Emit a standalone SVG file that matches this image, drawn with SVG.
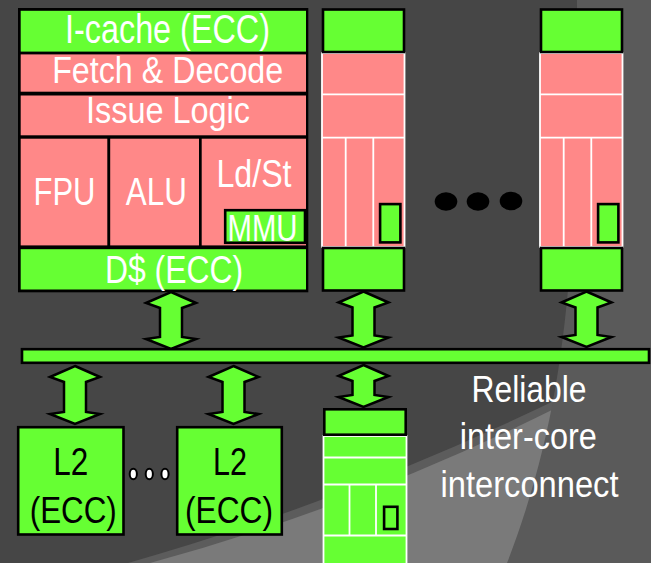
<svg xmlns="http://www.w3.org/2000/svg" width="651" height="563" viewBox="0 0 651 563">
<style>
.g{fill:#66ff33;stroke:#000;stroke-width:2.6}
.pk{fill:#ff8888}
.wl{fill:none;stroke:#fff;stroke-width:1.8}
.arr{fill:#66ff33;stroke:#000;stroke-width:2.5;stroke-linejoin:miter}
.t{font-family:"Liberation Sans Narrow","Liberation Sans",Arial,sans-serif;text-anchor:middle;fill:#fff}
.tb{font-family:"Liberation Sans Narrow","Liberation Sans",Arial,sans-serif;text-anchor:middle;fill:#000}
</style>
<g id="background">
<rect width="651" height="563" fill="#464646"/>
<path d="M128,563 Q350,500 560,398 L651,360 L651,563 Z" fill="#5c5c5c"/>
<path d="M150,563 Q360,506 562,405 L651,380 L651,563 Z" fill="#7a7a7a"/>
<path d="M577,0 C577,250 570,400 507,563 L651,563 L651,0 Z" fill="#5a5a5a"/>
</g>
<g id="connectors">
<polygon class="arr" points="171,292 196,303 182,308 182,337 196,339 171,349 146,339 160,337 160,308 146,303"/>
<polygon class="arr" points="363.5,291.5 388.5,302.5 374.5,307.5 374.5,335.5 388.5,337.5 363.5,347.5 338.5,337.5 352.5,335.5 352.5,307.5 338.5,302.5"/>
<polygon class="arr" points="586.5,291.5 611.5,302.5 597.5,307.5 597.5,335 611.5,337 586.5,347 561.5,337 575.5,335 575.5,307.5 561.5,302.5"/>
<polygon class="arr" points="75,366 100,377 86,382 86,412 100,414 75,424 50,414 64,412 64,382 50,377"/>
<polygon class="arr" points="233.5,366 258.5,377 244.5,382 244.5,412 258.5,414 233.5,424 208.5,414 222.5,412 222.5,382 208.5,377"/>
<polygon class="arr" points="363.5,365 388.5,376 374.5,381 374.5,395 388.5,397 363.5,407 338.5,397 352.5,395 352.5,381 338.5,376"/>
</g>
<g id="core1">
<rect x="18" y="8" width="290.3" height="284.3" fill="#000"/>
<rect x="20.7" y="10.8" width="285.3" height="40.8" fill="#66ff33"/>
<rect x="20.7" y="54.4" width="285.3" height="37.3" class="pk"/>
<rect x="20.7" y="95.5" width="285.3" height="39.8" class="pk"/>
<rect x="20.7" y="138.7" width="86.6" height="106.7" class="pk"/>
<rect x="110.2" y="138.7" width="88.8" height="106.7" class="pk"/>
<rect x="201.7" y="138.7" width="104.3" height="106.7" class="pk"/>
<rect x="20.7" y="249.2" width="285.3" height="40.3" fill="#66ff33"/>
<rect x="225.2" y="210.2" width="79.8" height="32.6" class="g" stroke-width="2.4"/>
<text class="t" x="167.5" y="43" font-size="40" textLength="205" lengthAdjust="spacingAndGlyphs">I-cache (ECC)</text>
<text class="t" x="167.7" y="83" font-size="37" textLength="231" lengthAdjust="spacingAndGlyphs">Fetch &amp; Decode</text>
<text class="t" x="168" y="123.3" font-size="36" textLength="164" lengthAdjust="spacingAndGlyphs">Issue Logic</text>
<text class="t" x="64.5" y="205" font-size="38" textLength="62" lengthAdjust="spacingAndGlyphs">FPU</text>
<text class="t" x="156.3" y="205" font-size="38" textLength="61" lengthAdjust="spacingAndGlyphs">ALU</text>
<text class="t" x="254" y="187" font-size="38" textLength="75" lengthAdjust="spacingAndGlyphs">Ld/St</text>
<text class="t" x="262.5" y="240.7" font-size="36" textLength="70" lengthAdjust="spacingAndGlyphs">MMU</text>
<text class="t" x="174" y="283" font-size="39" textLength="138" lengthAdjust="spacingAndGlyphs">D$ (ECC)</text>
</g>
<g id="core2">
<rect x="322" y="53" width="82.5" height="194" class="pk" stroke="#fff" stroke-width="1.8"/>
<path class="wl" d="M322,94.3H404.5M322,137.7H404.5M345.7,137.7V247M373.3,137.7V247"/>
<rect x="380.1" y="204.1" width="20.3" height="38.3" class="g" stroke-width="2.2"/>
<rect x="323" y="9.5" width="81" height="42.5" class="g"/>
<rect x="323" y="248" width="81" height="42.5" class="g"/>
</g>
<g id="core3" transform="translate(218,0)">
<rect x="322" y="53" width="82.5" height="194" class="pk" stroke="#fff" stroke-width="1.8"/>
<path class="wl" d="M322,94.3H404.5M322,137.7H404.5M345.7,137.7V247M373.3,137.7V247"/>
<rect x="380.1" y="204.1" width="20.3" height="38.3" class="g" stroke-width="2.2"/>
<rect x="323" y="9.5" width="81" height="42.5" class="g"/>
<rect x="323" y="248" width="81" height="42.5" class="g"/>
</g>
<g id="core-dots">
<ellipse cx="446" cy="201.5" rx="11.3" ry="9.3" fill="#000"/>
<ellipse cx="478" cy="201.5" rx="11.3" ry="9.3" fill="#000"/>
<ellipse cx="511" cy="201" rx="11.3" ry="9.3" fill="#000"/>
</g>
<g id="bus">
<rect x="22" y="349.2" width="627" height="13.6" class="g" stroke-width="2.4"/>
</g>
<g id="core4">
<rect x="323.5" y="436" width="83" height="130" fill="#66ff33" stroke="#fff" stroke-width="1.8"/>
<path class="wl" d="M323.5,457.5H406.5M323.5,484.5H406.5M323.5,535.5H406.5M349.5,484.5V535.5M376,484.5V535.5"/>
<rect x="384.1" y="506.8" width="13.3" height="22.2" class="g" stroke-width="2.2"/>
<rect x="324.3" y="409.3" width="81.4" height="25.4" class="g"/>
</g>
<g id="l2a">
<rect x="18.2" y="427.2" width="105.3" height="107.3" class="g" stroke-width="3"/>
<text class="tb" x="70.8" y="475" font-size="38" textLength="35" lengthAdjust="spacingAndGlyphs">L2</text>
<text class="tb" x="73.3" y="523" font-size="37" textLength="87" lengthAdjust="spacingAndGlyphs">(ECC)</text>
</g>
<g id="l2-dots">
<ellipse cx="133.3" cy="474" rx="3.6" ry="5.3" fill="#fff" stroke="#000" stroke-width="2"/>
<ellipse cx="149.3" cy="474" rx="3.6" ry="5.3" fill="#fff" stroke="#000" stroke-width="2"/>
<ellipse cx="165" cy="474" rx="3.6" ry="5.3" fill="#fff" stroke="#000" stroke-width="2"/>
</g>
<g id="l2b">
<rect x="177.2" y="427.2" width="104.6" height="107.3" class="g" stroke-width="3"/>
<text class="tb" x="230" y="475" font-size="38" textLength="34" lengthAdjust="spacingAndGlyphs">L2</text>
<text class="tb" x="229" y="523" font-size="37" textLength="88" lengthAdjust="spacingAndGlyphs">(ECC)</text>
</g>
<g id="label">
<text class="t" x="529" y="401.7" font-size="37" textLength="115" lengthAdjust="spacingAndGlyphs">Reliable</text>
<text class="t" x="528.3" y="449.3" font-size="37" textLength="137" lengthAdjust="spacingAndGlyphs">inter-core</text>
<text class="t" x="529.5" y="496.7" font-size="37" textLength="178" lengthAdjust="spacingAndGlyphs">interconnect</text>
</g>
</svg>
